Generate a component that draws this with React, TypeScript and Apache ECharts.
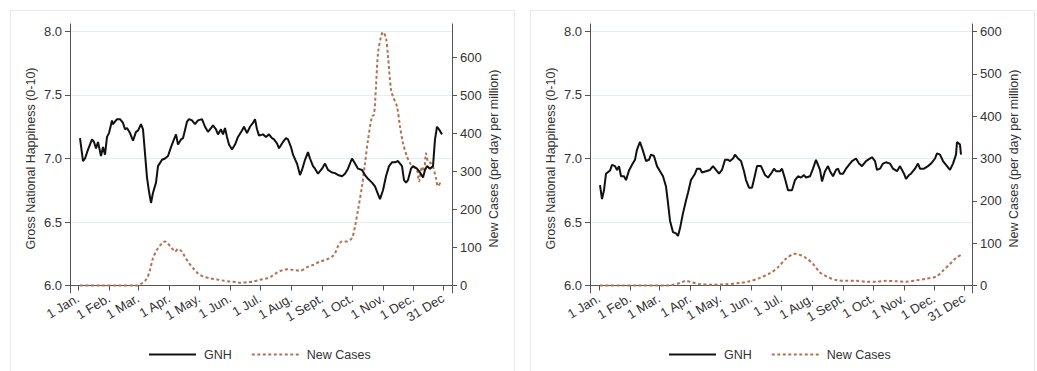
import React, { useEffect, useRef } from "react";
import * as echarts from "echarts";

// ---- tick labels ----
const tickDays = [0, 31, 60, 91, 121, 152, 182, 213, 244, 274, 305, 335, 365];
const tickLabels = ["1 Jan.", "1 Feb.", "1 Mar.", "1 Apr.", "1 May.", "1 Jun.", "1 Jul.", "1 Aug.", "1 Sept.", "1 Oct.", "1 Nov.", "1 Dec.", "31 Dec"];
const gnhTicks = [6, 6.5, 7, 7.5, 8];
const casesTicks = [0, 100, 200, 300, 400, 500, 600];

// ---- left panel: GNH ----
const gnhDaysA = [2, 5, 7, 10, 14, 16, 18, 20, 23, 25, 27, 29, 31, 34, 35, 39, 42, 45, 47, 49, 52, 55, 58, 60, 63, 65, 67, 69, 71, 73, 75, 78, 80, 84, 87, 90, 93, 95, 98, 100, 103, 105, 109, 111, 114, 117, 120, 124, 127, 130, 133, 135, 138, 140, 143, 145, 147, 149, 151, 154, 157, 160, 164, 166, 169, 172, 175, 177, 179, 181, 185, 188, 191, 194, 196, 199, 201, 205, 208, 210, 213, 215, 219, 222, 224, 227, 230, 232, 235, 237, 240, 244, 247, 250, 254, 257, 260, 264, 267, 270, 274, 277, 280, 284, 287, 290, 294, 297, 299, 302, 305, 308, 311, 314, 317, 320, 324, 326, 328, 330, 333, 335, 339, 342, 345, 347, 349, 352, 355, 357, 359, 361, 364];
const gnhA = [7.16, 6.98, 7.0, 7.07, 7.15, 7.13, 7.08, 7.13, 7.02, 7.09, 7.03, 7.17, 7.2, 7.3, 7.27, 7.31, 7.31, 7.28, 7.23, 7.24, 7.2, 7.14, 7.21, 7.22, 7.27, 7.23, 7.04, 6.85, 6.74, 6.65, 6.73, 6.81, 6.94, 6.99, 7.0, 7.02, 7.09, 7.13, 7.19, 7.11, 7.15, 7.16, 7.29, 7.31, 7.3, 7.27, 7.3, 7.31, 7.25, 7.21, 7.24, 7.26, 7.23, 7.19, 7.23, 7.19, 7.24, 7.17, 7.11, 7.07, 7.11, 7.17, 7.22, 7.25, 7.2, 7.25, 7.28, 7.31, 7.23, 7.18, 7.19, 7.17, 7.19, 7.16, 7.15, 7.12, 7.08, 7.13, 7.16, 7.15, 7.09, 7.03, 6.96, 6.87, 6.91, 6.99, 7.05, 7.0, 6.94, 6.92, 6.88, 6.92, 6.96, 6.91, 6.89, 6.885, 6.87, 6.86, 6.88, 6.92, 7.0, 6.96, 6.92, 6.91, 6.87, 6.84, 6.81, 6.78, 6.74, 6.68, 6.75, 6.86, 6.94, 6.97, 6.97, 6.98, 6.94, 6.83, 6.81, 6.83, 6.92, 6.94, 6.92, 6.89, 6.85, 6.91, 6.94, 6.92, 6.94, 7.15, 7.25, 7.23, 7.19];

// ---- left panel: new cases ----
const casesDaysA = [2, 20, 40, 58, 64, 69, 72, 75, 79, 84, 87, 90, 94, 97, 100, 104, 107, 111, 115, 120, 125, 132, 139, 145, 152, 159, 162, 169, 175, 182, 189, 194, 199, 205, 210, 215, 222, 229, 235, 242, 249, 254, 257, 260, 264, 269, 274, 277, 280, 284, 287, 290, 294, 296, 298, 300, 303, 305, 308, 310, 313, 315, 319, 322, 325, 329, 332, 335, 339, 341, 344, 346, 348, 350, 353, 355, 358, 360, 363];
const casesA = [0, 0, 0, 0, 6, 19, 41, 72, 94, 111, 116, 110, 98, 89, 96, 89, 75, 59, 46, 32, 24, 19, 16, 13, 10.5, 9, 7, 9, 10.5, 15, 19, 25, 34, 41, 43, 41, 39, 48, 54, 63, 69, 76, 85, 103, 116, 116, 125, 155, 199, 261, 322, 383, 445, 449, 524, 611, 655, 667, 651, 603, 515, 497, 471, 418, 375, 339, 322, 313, 304, 274, 313, 300, 348, 326, 322, 313, 282, 261, 274];

// ---- right panel: GNH ----
const gnhDaysB = [1, 3, 5, 7, 11, 13, 16, 18, 20, 22, 25, 27, 30, 33, 36, 38, 41, 44, 47, 50, 52, 55, 58, 61, 64, 67, 69, 71, 74, 77, 79, 81, 84, 87, 89, 92, 96, 98, 101, 103, 107, 111, 114, 117, 120, 123, 126, 129, 131, 134, 136, 139, 142, 145, 147, 150, 153, 156, 158, 162, 166, 169, 172, 175, 177, 181, 183, 186, 189, 193, 196, 199, 202, 205, 207, 211, 214, 217, 219, 221, 223, 226, 229, 231, 234, 237, 239, 241, 244, 247, 250, 253, 257, 260, 263, 267, 270, 273, 276, 278, 281, 284, 287, 291, 294, 298, 301, 305, 307, 310, 312, 316, 319, 321, 325, 329, 332, 336, 338, 341, 344, 347, 351, 354, 357, 358, 361, 362];
const gnhB = [6.79, 6.68, 6.75, 6.88, 6.905, 6.95, 6.94, 6.91, 6.94, 6.86, 6.86, 6.83, 6.905, 6.95, 6.99, 7.07, 7.13, 7.06, 6.98, 6.99, 7.03, 7.02, 6.94, 6.9, 6.86, 6.78, 6.65, 6.51, 6.42, 6.41, 6.39, 6.45, 6.57, 6.67, 6.73, 6.83, 6.88, 6.92, 6.92, 6.89, 6.9, 6.91, 6.94, 6.91, 6.88, 6.91, 6.99, 6.99, 6.98, 7.0, 7.03, 7.0, 6.98, 6.9, 6.83, 6.77, 6.77, 6.87, 6.94, 6.94, 6.87, 6.85, 6.88, 6.92, 6.9, 6.9, 6.92, 6.84, 6.75, 6.75, 6.83, 6.86, 6.85, 6.87, 6.85, 6.86, 6.92, 6.99, 6.95, 6.91, 6.82, 6.9, 6.94, 6.9, 6.86, 6.91, 6.92, 6.88, 6.88, 6.92, 6.95, 6.98, 7.0, 6.96, 6.94, 6.98, 6.995, 7.01, 6.98, 6.91, 6.92, 6.96, 6.97, 6.96, 6.92, 6.9, 6.94, 6.88, 6.84, 6.87, 6.88, 6.92, 6.96, 6.92, 6.92, 6.94, 6.96, 7.0, 7.04, 7.03, 6.98, 6.95, 6.91, 6.96, 7.03, 7.13, 7.11, 7.03];

// ---- right panel: new cases ----
const casesDaysB = [1, 20, 40, 67, 74, 81, 87, 92, 101, 114, 127, 141, 151, 161, 171, 179, 187, 196, 201, 207, 214, 221, 229, 237, 247, 257, 267, 277, 287, 297, 307, 317, 327, 337, 344, 351, 357, 362];
const casesB = [0, 0, 0, 0, 2, 6, 11, 8, 3, 2, 3, 6, 10, 18, 29, 43, 63, 75, 72, 65, 51, 31, 20, 13, 11, 11, 9, 9, 11, 10, 9, 12, 16, 21, 35, 51, 65, 72];

const FONT = "Liberation Sans, Arial, sans-serif";
const GNH_COLOR = "#111111";
const CASES_COLOR = "#b4714f";
const AXIS_COLOR = "#555555";
const TEXT_COLOR = "#333333";
const GRID_COLOR = "#e3eeee";

function buildCategories(start: number, end: number): string[] {
  const out: string[] = [];
  for (let d = start; d <= end; d++) out.push(String(d));
  return out;
}

function toPairs(days: number[], vals: number[], start: number) {
  return days.map((d, i) => [d - start, vals[i]]);
}

export default function App() {
  const ref = useRef<HTMLDivElement>(null);

  useEffect(() => {
    document.body.style.margin = "0";
    if (!ref.current) return;
    const chart = echarts.init(ref.current, undefined, { renderer: "svg" });

    const panels = [
      { left: 70, start: -8, end: 374, cMin: -19.7, cMax: 688.2, legendLeft: 143 },
      { left: 590, start: -9, end: 373, cMin: -17.7, cMax: 617.8, legendLeft: 663 },
    ];

    const labelOf = (v: string) => {
      const i = tickDays.indexOf(Number(v));
      return i >= 0 ? tickLabels[i] : "";
    };
    const isTick = (_idx: number, v: string) => tickDays.indexOf(Number(v)) >= 0;

    const grid = panels.map((p) => ({ left: p.left, top: 24, width: 382, height: 269 }));

    const xAxis = panels.map((p, gi) => ({
      type: "category",
      gridIndex: gi,
      boundaryGap: false,
      data: buildCategories(p.start, p.end),
      axisLine: { show: true, lineStyle: { color: AXIS_COLOR, width: 1 } },
      axisTick: { show: true, interval: isTick, length: 5, lineStyle: { color: AXIS_COLOR } },
      axisLabel: {
        interval: isTick,
        formatter: labelOf,
        rotate: 31,
        margin: 4,
        color: TEXT_COLOR,
        fontSize: 13,
        fontFamily: FONT,
      },
      splitLine: { show: false },
    }));

    const yAxis: any[] = [];
    panels.forEach((p, gi) => {
      yAxis.push({
        type: "value",
        gridIndex: gi,
        position: "left",
        min: 5.941,
        max: 8.059,
        name: "Gross National Happiness (0-10)",
        nameLocation: "middle",
        nameGap: 33,
        nameTextStyle: { color: TEXT_COLOR, fontSize: 12.5, fontFamily: FONT },
        axisLine: { show: true, lineStyle: { color: AXIS_COLOR, width: 1 } },
        axisTick: { show: true, length: 5, customValues: gnhTicks, lineStyle: { color: AXIS_COLOR } },
        axisLabel: {
          customValues: gnhTicks,
          formatter: (v: number) => v.toFixed(1),
          color: TEXT_COLOR,
          fontSize: 13,
          fontFamily: FONT,
          margin: 8,
        },
        splitLine: { show: true, lineStyle: { color: GRID_COLOR, width: 1 } },
      });
      yAxis.push({
        type: "value",
        gridIndex: gi,
        position: "right",
        min: p.cMin,
        max: p.cMax,
        name: "New Cases (per day per million)",
        nameLocation: "middle",
        nameGap: 35,
        nameTextStyle: { color: TEXT_COLOR, fontSize: 12.5, fontFamily: FONT },
        axisLine: { show: true, lineStyle: { color: AXIS_COLOR, width: 1 } },
        axisTick: { show: true, length: 5, customValues: casesTicks, lineStyle: { color: AXIS_COLOR } },
        axisLabel: {
          customValues: casesTicks,
          formatter: (v: number) => String(Math.round(v)),
          color: TEXT_COLOR,
          fontSize: 13,
          fontFamily: FONT,
          margin: 8,
        },
        splitLine: { show: false },
      });
    });

    const gnhSets = [
      { days: gnhDaysA, vals: gnhA },
      { days: gnhDaysB, vals: gnhB },
    ];
    const caseSets = [
      { days: casesDaysA, vals: casesA },
      { days: casesDaysB, vals: casesB },
    ];

    const series: any[] = [];
    panels.forEach((p, gi) => {
      series.push({
        name: "GNH",
        type: "line",
        xAxisIndex: gi,
        yAxisIndex: gi * 2,
        data: toPairs(gnhSets[gi].days, gnhSets[gi].vals, p.start),
        symbol: "none",
        smooth: false,
        lineStyle: { color: GNH_COLOR, width: 2 },
        itemStyle: { color: GNH_COLOR },
        z: 3,
      });
      series.push({
        name: "New Cases",
        type: "line",
        xAxisIndex: gi,
        yAxisIndex: gi * 2 + 1,
        data: toPairs(caseSets[gi].days, caseSets[gi].vals, p.start),
        symbol: "none",
        smooth: 0.3,
        lineStyle: { color: CASES_COLOR, width: 2, type: [3, 2.5] },
        itemStyle: { color: CASES_COLOR },
        z: 2,
      });
    });

    const legend = panels.map((p) => ({
      left: p.legendLeft,
      top: 343,
      data: ["GNH", "New Cases"],
      itemWidth: 47,
      itemHeight: 14,
      itemGap: 19,
      selectedMode: false,
      itemStyle: { opacity: 0 },
      textStyle: { color: TEXT_COLOR, fontSize: 12.5, fontFamily: FONT, padding: [0, 0, 0, 3] },
    }));

    chart.setOption({
      animation: false,
      backgroundColor: "#ffffff",
      textStyle: { fontFamily: FONT },
      graphic: [
        { type: "rect", shape: { x: 10.5, y: 10.5, width: 504, height: 400 }, style: { fill: "none", stroke: "#e4ebed", lineWidth: 1 }, silent: true, z: -1 },
        { type: "rect", shape: { x: 530.5, y: 10.5, width: 504, height: 400 }, style: { fill: "none", stroke: "#e4ebed", lineWidth: 1 }, silent: true, z: -1 },
      ],
      grid,
      xAxis,
      yAxis,
      legend,
      series,
    });

    return () => chart.dispose();
  }, []);

  return <div ref={ref} style={{ width: 1037, height: 371 }} />;
}
